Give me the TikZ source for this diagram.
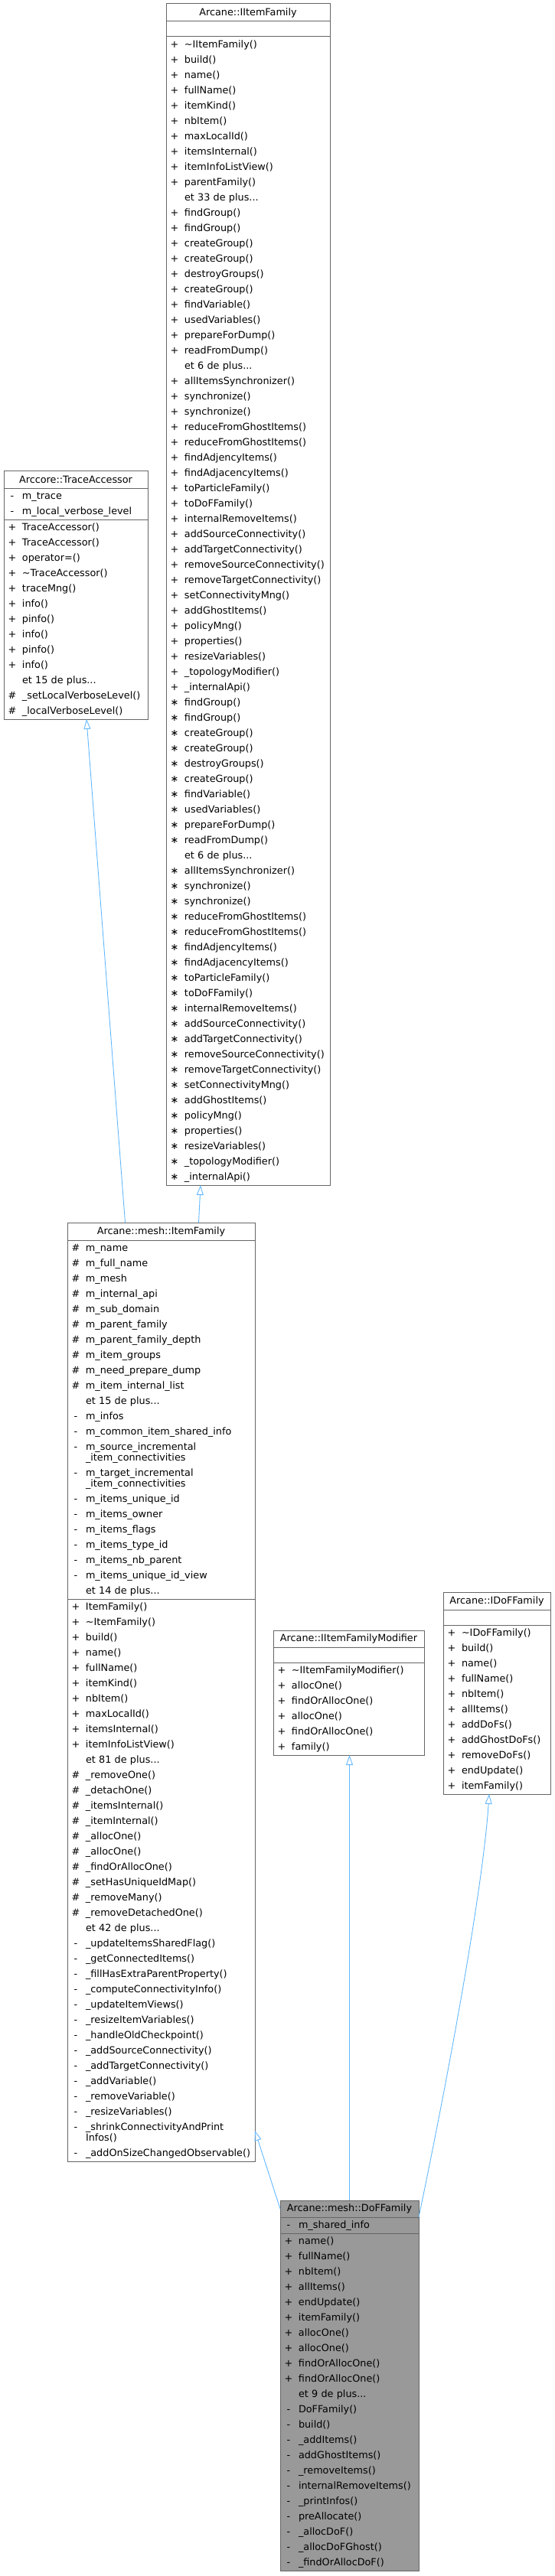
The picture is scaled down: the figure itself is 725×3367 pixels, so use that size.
\documentclass[tikz,border=0pt]{standalone}
\usepackage{fontspec}
\setmainfont{DejaVu Sans}
\usepackage{xcolor}
\usepackage{tikz}
\usetikzlibrary{arrows.meta, positioning}

\definecolor{boxgray}{HTML}{666666}
\definecolor{dofgray}{HTML}{999999}
\definecolor{edgeblue}{HTML}{63B8FF}
\newcommand{\umlrow}[2]{\makebox[22pt][l]{\makebox[18pt]{#1}}#2\rule[-6pt]{0pt}{20pt}}
\newcommand{\vstar}{\symbol{"2217}}

\begin{document}
\begin{tikzpicture}[
    x=1pt, y=-1pt,
    node distance=0pt,
    classhead/.style={rectangle, draw=boxgray, fill=white, line width=1pt, minimum width=#1, minimum height=23pt, inner sep=0pt, outer sep=0pt, anchor=north west, align=center, font=\fontsize{12.8}{20}\selectfont},
    classpart/.style={rectangle, draw=boxgray, fill=white, line width=1pt, text width=#1-4pt, inner xsep=2pt, inner ysep=0.5pt, outer sep=0pt, minimum height=20pt, align=left, font=\fontsize{12.8}{20}\selectfont},
    current/.style={fill=dofgray},
    inherit/.style={-{Triangle[open, length=13pt, width=9pt]}, line width=0.9pt, draw=edgeblue}
]
    \useasboundingbox (0,0) rectangle (725,3367);

    % Arcane::IItemFamily
    \node[classhead=214pt] (iifT) at (217,5) {Arcane::IItemFamily};
    \node[classpart=214pt, below=of iifT] (iifA) {};
    \node[classpart=214pt, below=of iifA] (iifM) {\umlrow{+}{\textasciitilde IItemFamily()}\\
        \umlrow{+}{build()}\\ \umlrow{+}{name()}\\ \umlrow{+}{fullName()}\\ \umlrow{+}{itemKind()}\\
        \umlrow{+}{nbItem()}\\ \umlrow{+}{maxLocalId()}\\ \umlrow{+}{itemsInternal()}\\
        \umlrow{+}{itemInfoListView()}\\ \umlrow{+}{parentFamily()}\\ \umlrow{}{et 33 de plus...}\\
        \umlrow{+}{findGroup()}\\ \umlrow{+}{findGroup()}\\ \umlrow{+}{createGroup()}\\
        \umlrow{+}{createGroup()}\\ \umlrow{+}{destroyGroups()}\\ \umlrow{+}{createGroup()}\\
        \umlrow{+}{findVariable()}\\ \umlrow{+}{usedVariables()}\\ \umlrow{+}{prepareForDump()}\\
        \umlrow{+}{readFromDump()}\\ \umlrow{}{et 6 de plus...}\\ \umlrow{+}{allItemsSynchronizer()}\\
        \umlrow{+}{synchronize()}\\ \umlrow{+}{synchronize()}\\ \umlrow{+}{reduceFromGhostItems()}\\
        \umlrow{+}{reduceFromGhostItems()}\\ \umlrow{+}{findAdjencyItems()}\\ \umlrow{+}{findAdjacencyItems()}\\
        \umlrow{+}{toParticleFamily()}\\ \umlrow{+}{toDoFFamily()}\\ \umlrow{+}{internalRemoveItems()}\\
        \umlrow{+}{addSourceConnectivity()}\\ \umlrow{+}{addTargetConnectivity()}\\
        \umlrow{+}{removeSourceConnectivity()}\\ \umlrow{+}{removeTargetConnectivity()}\\
        \umlrow{+}{setConnectivityMng()}\\ \umlrow{+}{addGhostItems()}\\ \umlrow{+}{policyMng()}\\
        \umlrow{+}{properties()}\\ \umlrow{+}{resizeVariables()}\\ \umlrow{+}{\_topologyModifier()}\\
        \umlrow{+}{\_internalApi()}\\
        \umlrow{\vstar}{findGroup()}\\ \umlrow{\vstar}{findGroup()}\\ \umlrow{\vstar}{createGroup()}\\
        \umlrow{\vstar}{createGroup()}\\ \umlrow{\vstar}{destroyGroups()}\\ \umlrow{\vstar}{createGroup()}\\
        \umlrow{\vstar}{findVariable()}\\ \umlrow{\vstar}{usedVariables()}\\ \umlrow{\vstar}{prepareForDump()}\\
        \umlrow{\vstar}{readFromDump()}\\ \umlrow{}{et 6 de plus...}\\ \umlrow{\vstar}{allItemsSynchronizer()}\\
        \umlrow{\vstar}{synchronize()}\\ \umlrow{\vstar}{synchronize()}\\ \umlrow{\vstar}{reduceFromGhostItems()}\\
        \umlrow{\vstar}{reduceFromGhostItems()}\\ \umlrow{\vstar}{findAdjencyItems()}\\ \umlrow{\vstar}{findAdjacencyItems()}\\
        \umlrow{\vstar}{toParticleFamily()}\\ \umlrow{\vstar}{toDoFFamily()}\\ \umlrow{\vstar}{internalRemoveItems()}\\
        \umlrow{\vstar}{addSourceConnectivity()}\\ \umlrow{\vstar}{addTargetConnectivity()}\\
        \umlrow{\vstar}{removeSourceConnectivity()}\\ \umlrow{\vstar}{removeTargetConnectivity()}\\
        \umlrow{\vstar}{setConnectivityMng()}\\ \umlrow{\vstar}{addGhostItems()}\\ \umlrow{\vstar}{policyMng()}\\
        \umlrow{\vstar}{properties()}\\ \umlrow{\vstar}{resizeVariables()}\\ \umlrow{\vstar}{\_topologyModifier()}\\
        \umlrow{\vstar}{\_internalApi()}};

    % Arccore::TraceAccessor
    \node[classhead=188pt] (trcT) at (5,615) {Arccore::TraceAccessor};
    \node[classpart=188pt, below=of trcT] (trcA) {\umlrow{-}{m\_trace}\\ \umlrow{-}{m\_local\_verbose\_level}};
    \node[classpart=188pt, below=of trcA] (trcM) {\umlrow{+}{TraceAccessor()}\\
        \umlrow{+}{TraceAccessor()}\\ \umlrow{+}{operator=()}\\ \umlrow{+}{\textasciitilde TraceAccessor()}\\
        \umlrow{+}{traceMng()}\\ \umlrow{+}{info()}\\ \umlrow{+}{pinfo()}\\ \umlrow{+}{info()}\\
        \umlrow{+}{pinfo()}\\ \umlrow{+}{info()}\\ \umlrow{}{et 15 de plus...}\\
        \umlrow{\#}{\_setLocalVerboseLevel()}\\ \umlrow{\#}{\_localVerboseLevel()}};

    % Arcane::mesh::ItemFamily
    \node[classhead=245pt] (mifT) at (88,1598) {Arcane::mesh::ItemFamily};
    \node[classpart=245pt, below=of mifT] (mifA) {\umlrow{\#}{m\_name}\\
        \umlrow{\#}{m\_full\_name}\\ \umlrow{\#}{m\_mesh}\\ \umlrow{\#}{m\_internal\_api}\\
        \umlrow{\#}{m\_sub\_domain}\\ \umlrow{\#}{m\_parent\_family}\\ \umlrow{\#}{m\_parent\_family\_depth}\\
        \umlrow{\#}{m\_item\_groups}\\ \umlrow{\#}{m\_need\_prepare\_dump}\\ \umlrow{\#}{m\_item\_internal\_list}\\
        \umlrow{}{et 15 de plus...}\\ \umlrow{-}{m\_infos}\\ \umlrow{-}{m\_common\_item\_shared\_info}\\
        \umlrow{-}{m\_source\_incremental}\\[-6pt] \umlrow{}{\_item\_connectivities}\\
        \umlrow{-}{m\_target\_incremental}\\[-6pt] \umlrow{}{\_item\_connectivities}\\
        \umlrow{-}{m\_items\_unique\_id}\\ \umlrow{-}{m\_items\_owner}\\ \umlrow{-}{m\_items\_flags}\\
        \umlrow{-}{m\_items\_type\_id}\\ \umlrow{-}{m\_items\_nb\_parent}\\ \umlrow{-}{m\_items\_unique\_id\_view}\\
        \umlrow{}{et 14 de plus...}};
    \node[classpart=245pt, below=of mifA] (mifM) {\umlrow{+}{ItemFamily()}\\
        \umlrow{+}{\textasciitilde ItemFamily()}\\ \umlrow{+}{build()}\\ \umlrow{+}{name()}\\
        \umlrow{+}{fullName()}\\ \umlrow{+}{itemKind()}\\ \umlrow{+}{nbItem()}\\ \umlrow{+}{maxLocalId()}\\
        \umlrow{+}{itemsInternal()}\\ \umlrow{+}{itemInfoListView()}\\ \umlrow{}{et 81 de plus...}\\
        \umlrow{\#}{\_removeOne()}\\ \umlrow{\#}{\_detachOne()}\\ \umlrow{\#}{\_itemsInternal()}\\
        \umlrow{\#}{\_itemInternal()}\\ \umlrow{\#}{\_allocOne()}\\ \umlrow{\#}{\_allocOne()}\\
        \umlrow{\#}{\_findOrAllocOne()}\\ \umlrow{\#}{\_setHasUniqueIdMap()}\\ \umlrow{\#}{\_removeMany()}\\
        \umlrow{\#}{\_removeDetachedOne()}\\ \umlrow{}{et 42 de plus...}\\
        \umlrow{-}{\_updateItemsSharedFlag()}\\ \umlrow{-}{\_getConnectedItems()}\\
        \umlrow{-}{\_fillHasExtraParentProperty()}\\ \umlrow{-}{\_computeConnectivityInfo()}\\
        \umlrow{-}{\_updateItemViews()}\\ \umlrow{-}{\_resizeItemVariables()}\\ \umlrow{-}{\_handleOldCheckpoint()}\\
        \umlrow{-}{\_addSourceConnectivity()}\\ \umlrow{-}{\_addTargetConnectivity()}\\ \umlrow{-}{\_addVariable()}\\
        \umlrow{-}{\_removeVariable()}\\ \umlrow{-}{\_resizeVariables()}\\
        \umlrow{-}{\_shrinkConnectivityAndPrint}\\[-6pt] \umlrow{}{Infos()}\\
        \umlrow{-}{\_addOnSizeChangedObservable()}};

    % Arcane::IItemFamilyModifier
    \node[classhead=197pt, minimum height=22pt] (ifmT) at (357,2131) {Arcane::IItemFamilyModifier};
    \node[classpart=197pt, below=of ifmT] (ifmA) {};
    \node[classpart=197pt, below=of ifmA] (ifmM) {\umlrow{+}{\textasciitilde IItemFamilyModifier()}\\
        \umlrow{+}{allocOne()}\\ \umlrow{+}{findOrAllocOne()}\\ \umlrow{+}{allocOne()}\\
        \umlrow{+}{findOrAllocOne()}\\ \umlrow{+}{family()}};

    % Arcane::IDoFFamily
    \node[classhead=140pt] (idfT) at (579,2081) {Arcane::IDoFFamily};
    \node[classpart=140pt, below=of idfT] (idfA) {};
    \node[classpart=140pt, below=of idfA] (idfM) {\umlrow{+}{\textasciitilde IDoFFamily()}\\
        \umlrow{+}{build()}\\ \umlrow{+}{name()}\\ \umlrow{+}{fullName()}\\ \umlrow{+}{nbItem()}\\
        \umlrow{+}{allItems()}\\ \umlrow{+}{addDoFs()}\\ \umlrow{+}{addGhostDoFs()}\\
        \umlrow{+}{removeDoFs()}\\ \umlrow{+}{endUpdate()}\\ \umlrow{+}{itemFamily()}};

    % Arcane::mesh::DoFFamily
    \node[classhead=181pt, minimum height=22pt, current] (dofT) at (366,2876) {Arcane::mesh::DoFFamily};
    \node[classpart=181pt, below=of dofT, current] (dofA) {\umlrow{-}{m\_shared\_info}};
    \node[classpart=181pt, below=of dofA, current] (dofM) {\umlrow{+}{name()}\\
        \umlrow{+}{fullName()}\\ \umlrow{+}{nbItem()}\\ \umlrow{+}{allItems()}\\ \umlrow{+}{endUpdate()}\\
        \umlrow{+}{itemFamily()}\\ \umlrow{+}{allocOne()}\\ \umlrow{+}{allocOne()}\\
        \umlrow{+}{findOrAllocOne()}\\ \umlrow{+}{findOrAllocOne()}\\ \umlrow{}{et 9 de plus...}\\
        \umlrow{-}{DoFFamily()}\\ \umlrow{-}{build()}\\ \umlrow{-}{\_addItems()}\\ \umlrow{-}{addGhostItems()}\\
        \umlrow{-}{\_removeItems()}\\ \umlrow{-}{internalRemoveItems()}\\ \umlrow{-}{\_printInfos()}\\
        \umlrow{-}{preAllocate()}\\ \umlrow{-}{\_allocDoF()}\\ \umlrow{-}{\_allocDoFGhost()}\\
        \umlrow{-}{\_findOrAllocDoF()}};

    % inheritance
    \draw[inherit] ([xshift=-47pt]mifT.north) -- ([xshift=14pt]trcM.south);
    \draw[inherit] ([xshift=49pt]mifT.north) -- ([xshift=-62pt]iifM.south);
    \draw[inherit] (dofT.west) -- ([yshift=40pt]mifM.south east);
    \draw[inherit] (dofT.north) -- (dofT.north |- ifmM.south);
    \draw[inherit] (dofT.south east) .. controls (578,2750) and (630,2480) .. ([xshift=-10pt]idfM.south);
\end{tikzpicture}
\end{document}
